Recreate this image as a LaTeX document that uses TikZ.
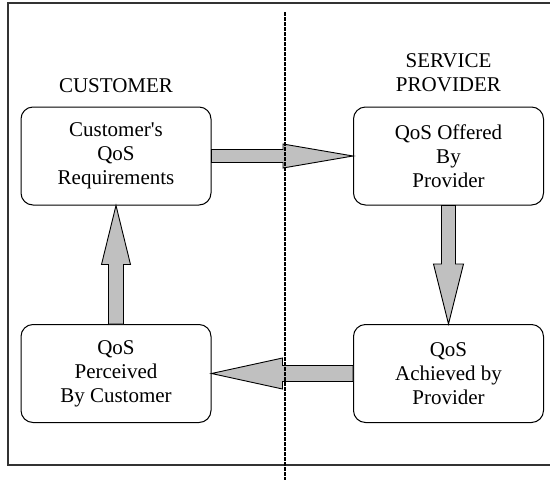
\documentclass[tikz,border=0pt]{standalone}
\usepackage{fontspec}
\newfontfamily\qosfont{Liberation Serif}
\usepackage{tikz}
\usetikzlibrary{calc,positioning}

\tikzset{
  qosbox/.style={draw=black, line width=1pt, rounded corners=12pt,
    minimum width=190pt, minimum height=98pt, inner sep=0pt, align=center},
  sidelabel/.style={inner sep=0pt, align=center},
  blockarrow/.style={draw=black, line width=0.9pt, fill=arrowgray, line join=miter},
  divider/.style={line width=1.3pt, dash pattern=on 3.5pt off 1.5pt},
  frame/.style={draw=black!80, line width=1.2pt}
}
\definecolor{arrowgray}{HTML}{C0C0C0}

% fat arrow: from, to, shaft half width, head half width, head length
\newcommand{\fatarrow}[5]{%
  \path coordinate (hb) at ($(#2)!#5pt!(#1)$);
  \draw[blockarrow] ($(#1)!#3pt!90:(#2)$) -- ($(hb)!#3pt!90:(#2)$)
    -- ($(hb)!#4pt!90:(#2)$) -- (#2) -- ($(hb)!#4pt!-90:(#2)$)
    -- ($(hb)!#3pt!-90:(#2)$) -- ($(#1)!#3pt!-90:(#2)$) -- cycle;
}

\begin{document}
\begin{tikzpicture}[x=1pt, y=-1pt, font=\qosfont\fontsize{21}{24}\selectfont]
\useasboundingbox (0,0) rectangle (550,480);
\draw[frame] (8,3) rectangle (560,465);

\node[qosbox] (req) at (116,156) {Customer's\\QoS\\Requirements};
\node[qosbox] (offer) at (448.5,156) {QoS Offered\\By\\Provider};
\node[qosbox] (achieve) at (448.5,373.5) {QoS\\Achieved by\\Provider};
\node[qosbox] (perceive) at (116,373.5) {QoS\\Perceived\\By Customer};

\node[sidelabel] (customer) [above=14pt of req] {CUSTOMER};
\node[sidelabel] (provider) [above=14pt of offer] {SERVICE\\PROVIDER};

\fatarrow{req.east}{offer.west}{6.5}{12}{70}
\fatarrow{offer.south}{achieve.north}{7}{15}{60}
\fatarrow{achieve.west}{perceive.east}{8}{15.5}{71}
\fatarrow{perceive.north}{req.south}{7.5}{14.5}{59}

\draw[divider] (285,12) -- (285,482);
\end{tikzpicture}
\end{document}
